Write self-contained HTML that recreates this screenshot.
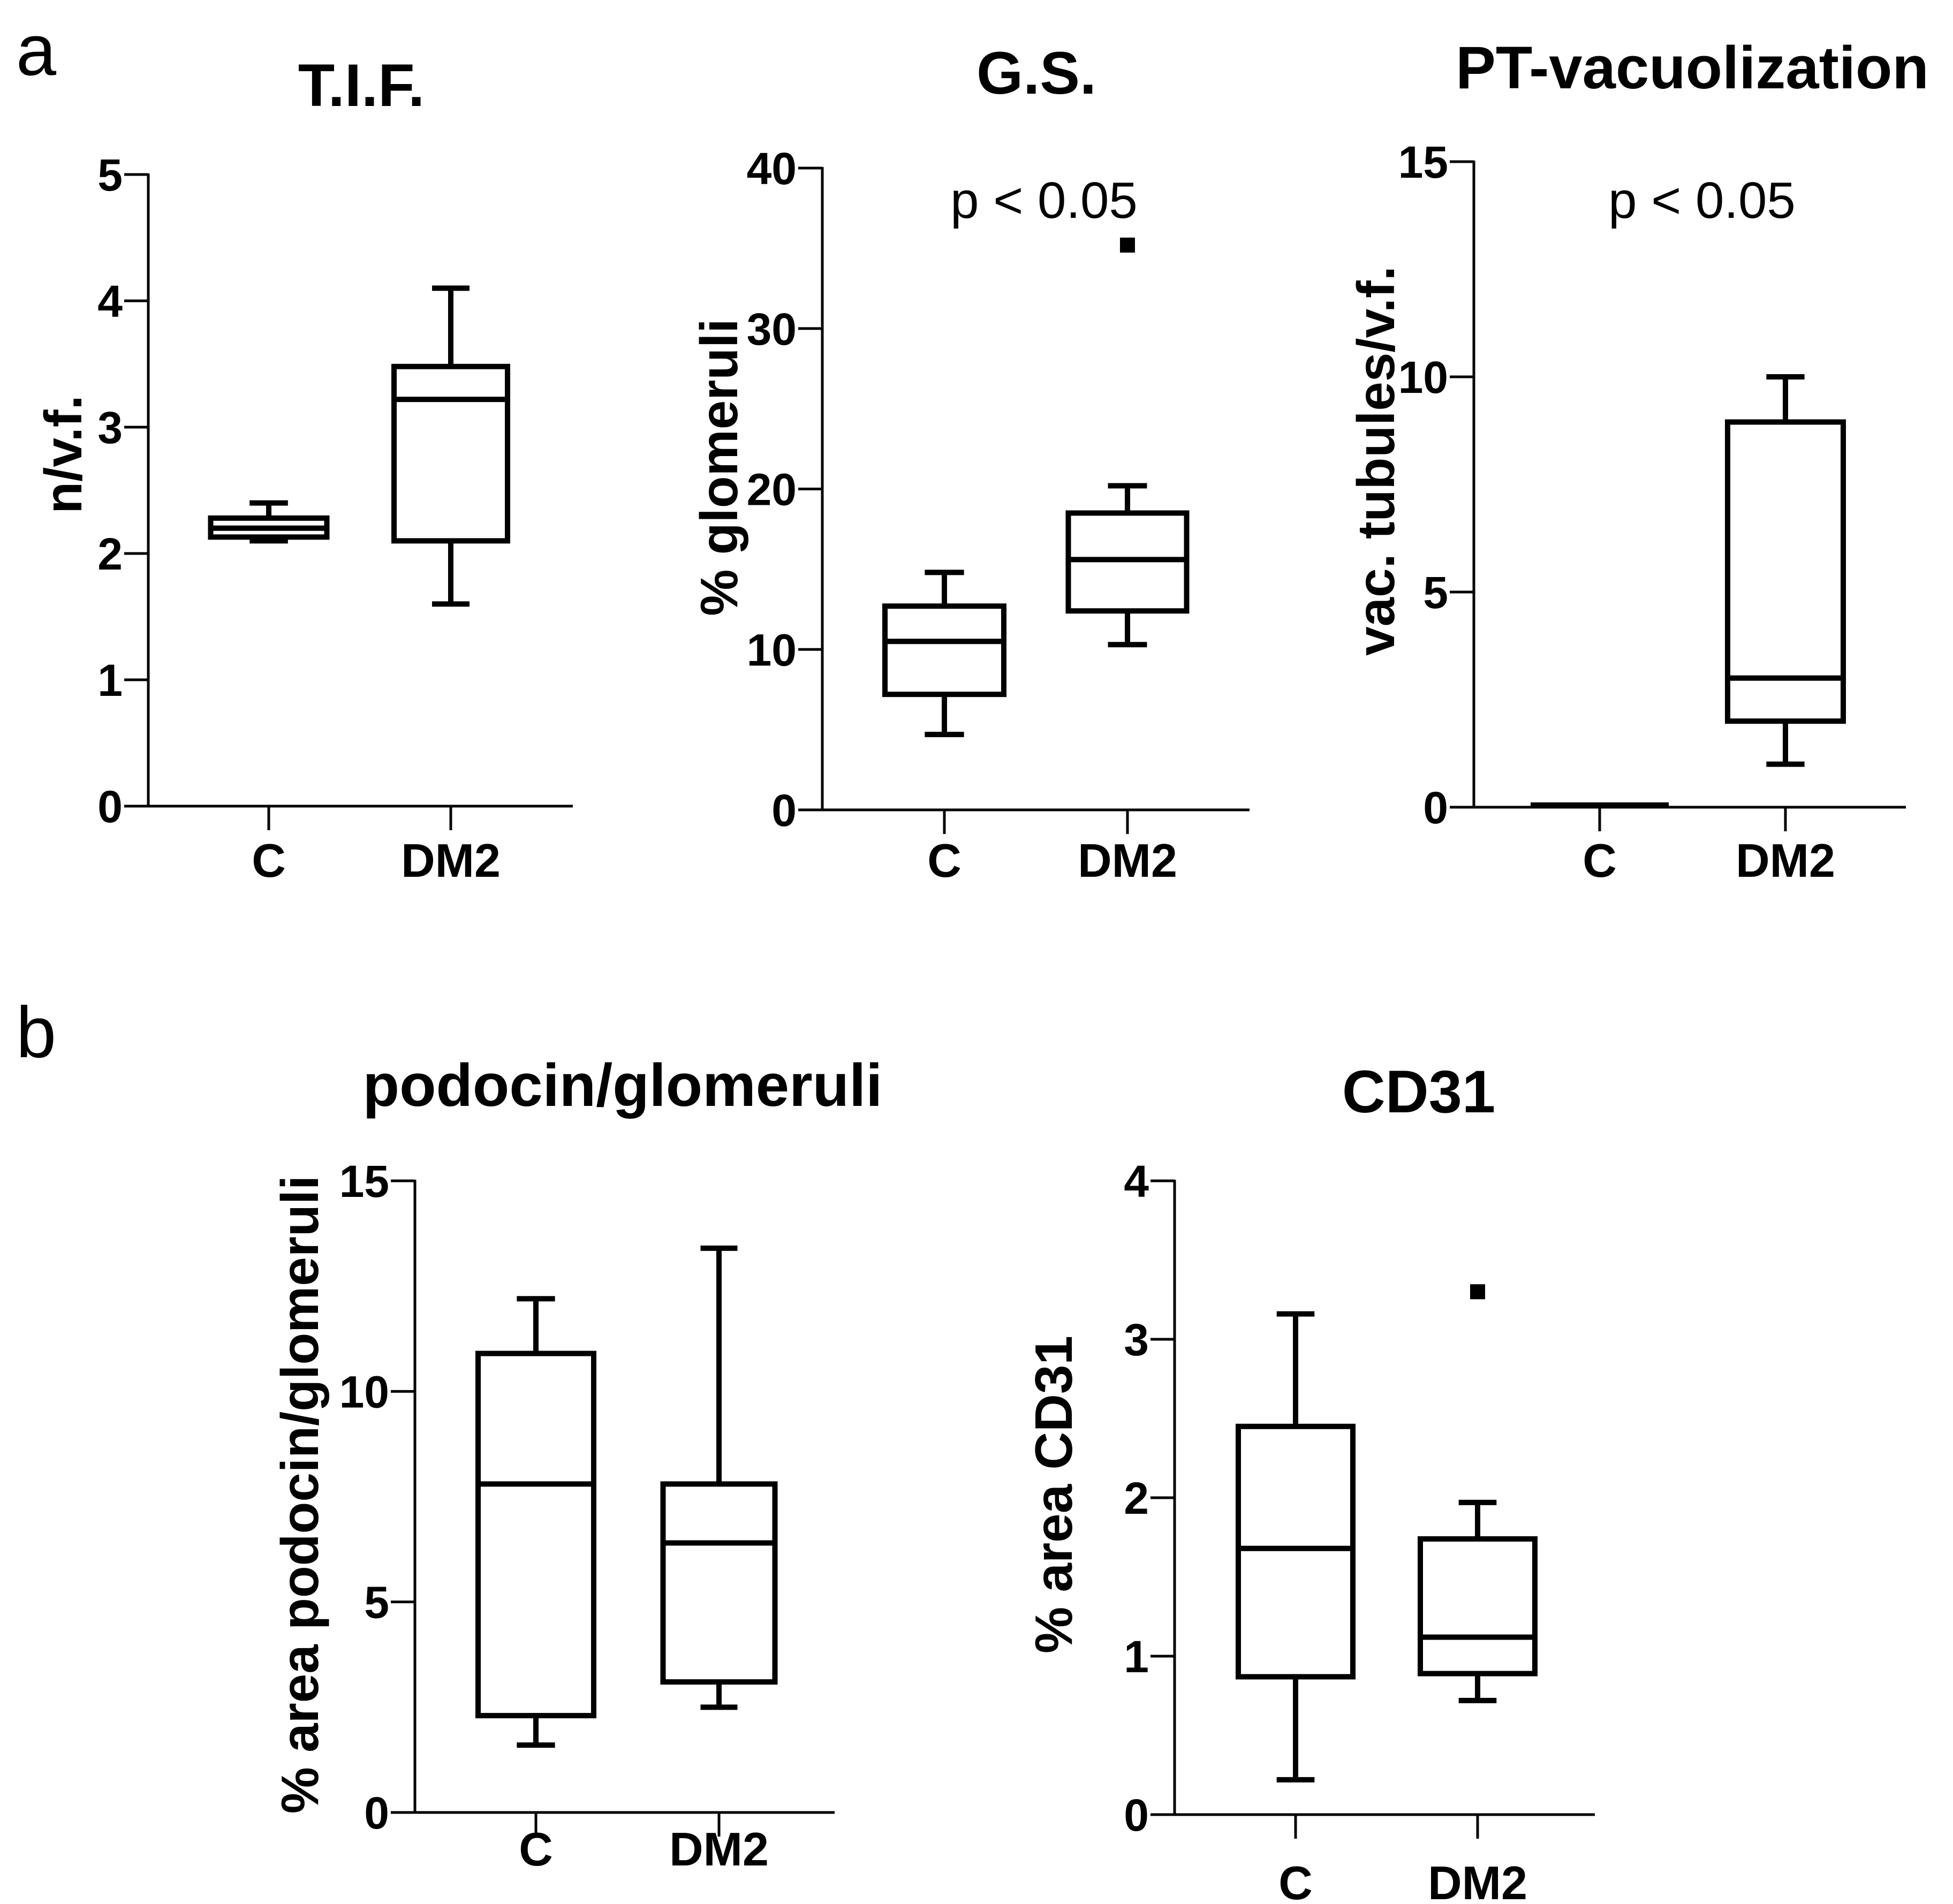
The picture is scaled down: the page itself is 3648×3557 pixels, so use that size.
<!DOCTYPE html>
<html><head><meta charset="utf-8"><style>
html,body{margin:0;padding:0;background:#fff}
svg{display:block}
text{font-family:"Liberation Sans",Arial,sans-serif;fill:#000}
</style></head><body>
<svg id="fig" width="3648" height="3557" viewBox="0 0 3648 3557" xmlns="http://www.w3.org/2000/svg">
<text x="30" y="140" font-size="135">a</text>
<text x="30" y="1975" font-size="135">b</text>
</svg>
<script>
// Data arrays: [whiskerLow, q1, median, q3, whiskerHigh]
const groups = ["C", "DM2"];
const tifC = [2.1, 2.13, 2.2, 2.28, 2.4];
const tifDM2 = [1.6, 2.1, 3.22, 3.48, 4.1];
const tifTicks = [0, 1, 2, 3, 4, 5];
const gsC = [4.7, 7.2, 10.5, 12.7, 14.8];
const gsDM2 = [10.3, 12.4, 15.6, 18.5, 20.2];
const gsOutliers = [[], [35.2]];
const gsTicks = [0, 10, 20, 30, 40];
const ptC = [0.05, 0.05, 0.05, 0.05, 0.05];
const ptDM2 = [1, 2, 3, 8.95, 10];
const ptTicks = [0, 5, 10, 15];
const podC = [1.6, 2.3, 7.8, 10.9, 12.2];
const podDM2 = [2.5, 3.1, 6.4, 7.8, 13.4];
const podTicks = [0, 5, 10, 15];
const cdC = [0.22, 0.87, 1.68, 2.45, 3.16];
const cdDM2 = [0.72, 0.89, 1.12, 1.74, 1.97];
const cdOutliers = [[], [3.3]];
const cdTicks = [0, 1, 2, 3, 4];

const NS = "http://www.w3.org/2000/svg";
const svg = document.getElementById("fig");
function mk(tag, attrs, parent) {
  const e = document.createElementNS(NS, tag);
  for (const k in attrs) e.setAttribute(k, attrs[k]);
  (parent || svg).appendChild(e);
  return e;
}

const panels = [
  {id:"tif", title:"T.I.F.", tx:675, ty:198, ytitle:"n/v.f.", ytx:118, yty:849,
   ax:277, y0:1506, y1:326, axEnd:1070, xs:[502,842], bw:[217,212], max:5, ticks:tifTicks,
   boxes:[tifC, tifDM2], out:[[],[]], xlY:1638},
  {id:"gs", title:"G.S.", tx:1936, ty:175, ytitle:"% glomeruli", ytx:1343, yty:873,
   ax:1536, y0:1513, y1:314, axEnd:2334, xs:[1764,2106], bw:[222,221], max:40, ticks:gsTicks,
   boxes:[gsC, gsDM2], out:gsOutliers, xlY:1638, p:"p < 0.05", px:1950, py:407},
  {id:"pt", title:"PT-vacuolization", tx:3161, ty:165, ytitle:"vac. tubules/v.f.", ytx:2570, yty:861,
   ax:2753, y0:1508, y1:302, axEnd:3560, xs:[2988,3335], bw:[258,216], max:15, ticks:ptTicks,
   boxes:[ptC, ptDM2], out:[[],[]], xlY:1638, p:"p < 0.05", px:3179, py:407},
  {id:"podocin", title:"podocin/glomeruli", tx:1163, ty:2066, ytitle:"% area podocin/glomeruli", ytx:560, yty:2792,
   ax:775, y0:3386, y1:2206, axEnd:1559, xs:[1001,1343], bw:[216,209], max:15, ticks:podTicks,
   boxes:[podC, podDM2], out:[[],[]], xlY:3485},
  {id:"cd31", title:"CD31", tx:2650, ty:2078, ytitle:"% area CD31", ytx:1968, yty:2792,
   ax:2194, y0:3390, y1:2206, axEnd:2979, xs:[2420,2760], bw:[214,214], max:4, ticks:cdTicks,
   boxes:[cdC, cdDM2], out:cdOutliers, xlY:3548}
];

panels.forEach(p => {
  const g = mk("g", {});
  
  
  const Y = v => p.y0 - (v / p.max) * (p.y0 - p.y1);

  const t = mk("text", {x:p.tx, y:p.ty, "font-size":112, "font-weight":"bold", "text-anchor":"middle"}, g);
  t.textContent = p.title;
  
  

  const yt = mk("text", {x:0, y:0, "font-size":98, "font-weight":"bold", "text-anchor":"middle",
    transform:`translate(${p.ytx},${p.yty}) rotate(-90)`, "dominant-baseline":"central"}, g);
  yt.textContent = p.ytitle;
  
  

  const ax = mk("path", {d:`M${p.ax},${Y(p.max)-2} V${p.y0} H${p.axEnd}`, stroke:"#000", "stroke-width":5, fill:"none"}, g);
  
  

  p.ticks.forEach(v => {
    const tk = mk("line", {x1:p.ax-45, x2:p.ax, y1:Y(v), y2:Y(v), stroke:"#000", "stroke-width":5}, g);
    
    
    const tl = mk("text", {x:p.ax-48, y:Y(v)+30, "font-size":84, "font-weight":"bold", "text-anchor":"end"}, g);
    tl.textContent = v;
    
    
  });

  p.xs.forEach((x, i) => {
    const tk = mk("line", {x1:x, x2:x, y1:p.y0, y2:p.y0+45, stroke:"#000", "stroke-width":5}, g);
    
    
    const xl = mk("text", {x:x, y:p.xlY, "font-size":88, "font-weight":"bold", "text-anchor":"middle"}, g);
    xl.textContent = groups[i];
    
    

    const b = p.boxes[i];
    const hw = p.bw[i] / 2;
    const cap = hw * 0.33;
    const bg = mk("g", {stroke:"#000", "stroke-width":10, fill:"none"}, g);
    
    
    mk("line", {x1:x, x2:x, y1:Y(b[0]), y2:Y(b[1])}, bg);
    mk("line", {x1:x, x2:x, y1:Y(b[3]), y2:Y(b[4])}, bg);
    mk("line", {x1:x-cap, x2:x+cap, y1:Y(b[0]), y2:Y(b[0])}, bg);
    mk("line", {x1:x-cap, x2:x+cap, y1:Y(b[4]), y2:Y(b[4])}, bg);
    const h = Math.max(Y(b[1]) - Y(b[3]), 0);
    mk("rect", {x:x-hw, y:Y(b[3]), width:2*hw, height:h, fill:"#fff"}, bg);
    mk("line", {x1:x-hw, x2:x+hw, y1:Y(b[2]), y2:Y(b[2])}, bg);

    (p.out[i] || []).forEach(v => {
      const o = mk("rect", {x:x-14, y:Y(v)-14, width:28, height:28, fill:"#000"}, g);
      
      
    });
  });

  if (p.p) {
    const pt = mk("text", {x:p.px, y:p.py, "font-size":96, "text-anchor":"middle"}, g);
    pt.textContent = p.p;
    
    
  }
});
</script>
</body></html>
